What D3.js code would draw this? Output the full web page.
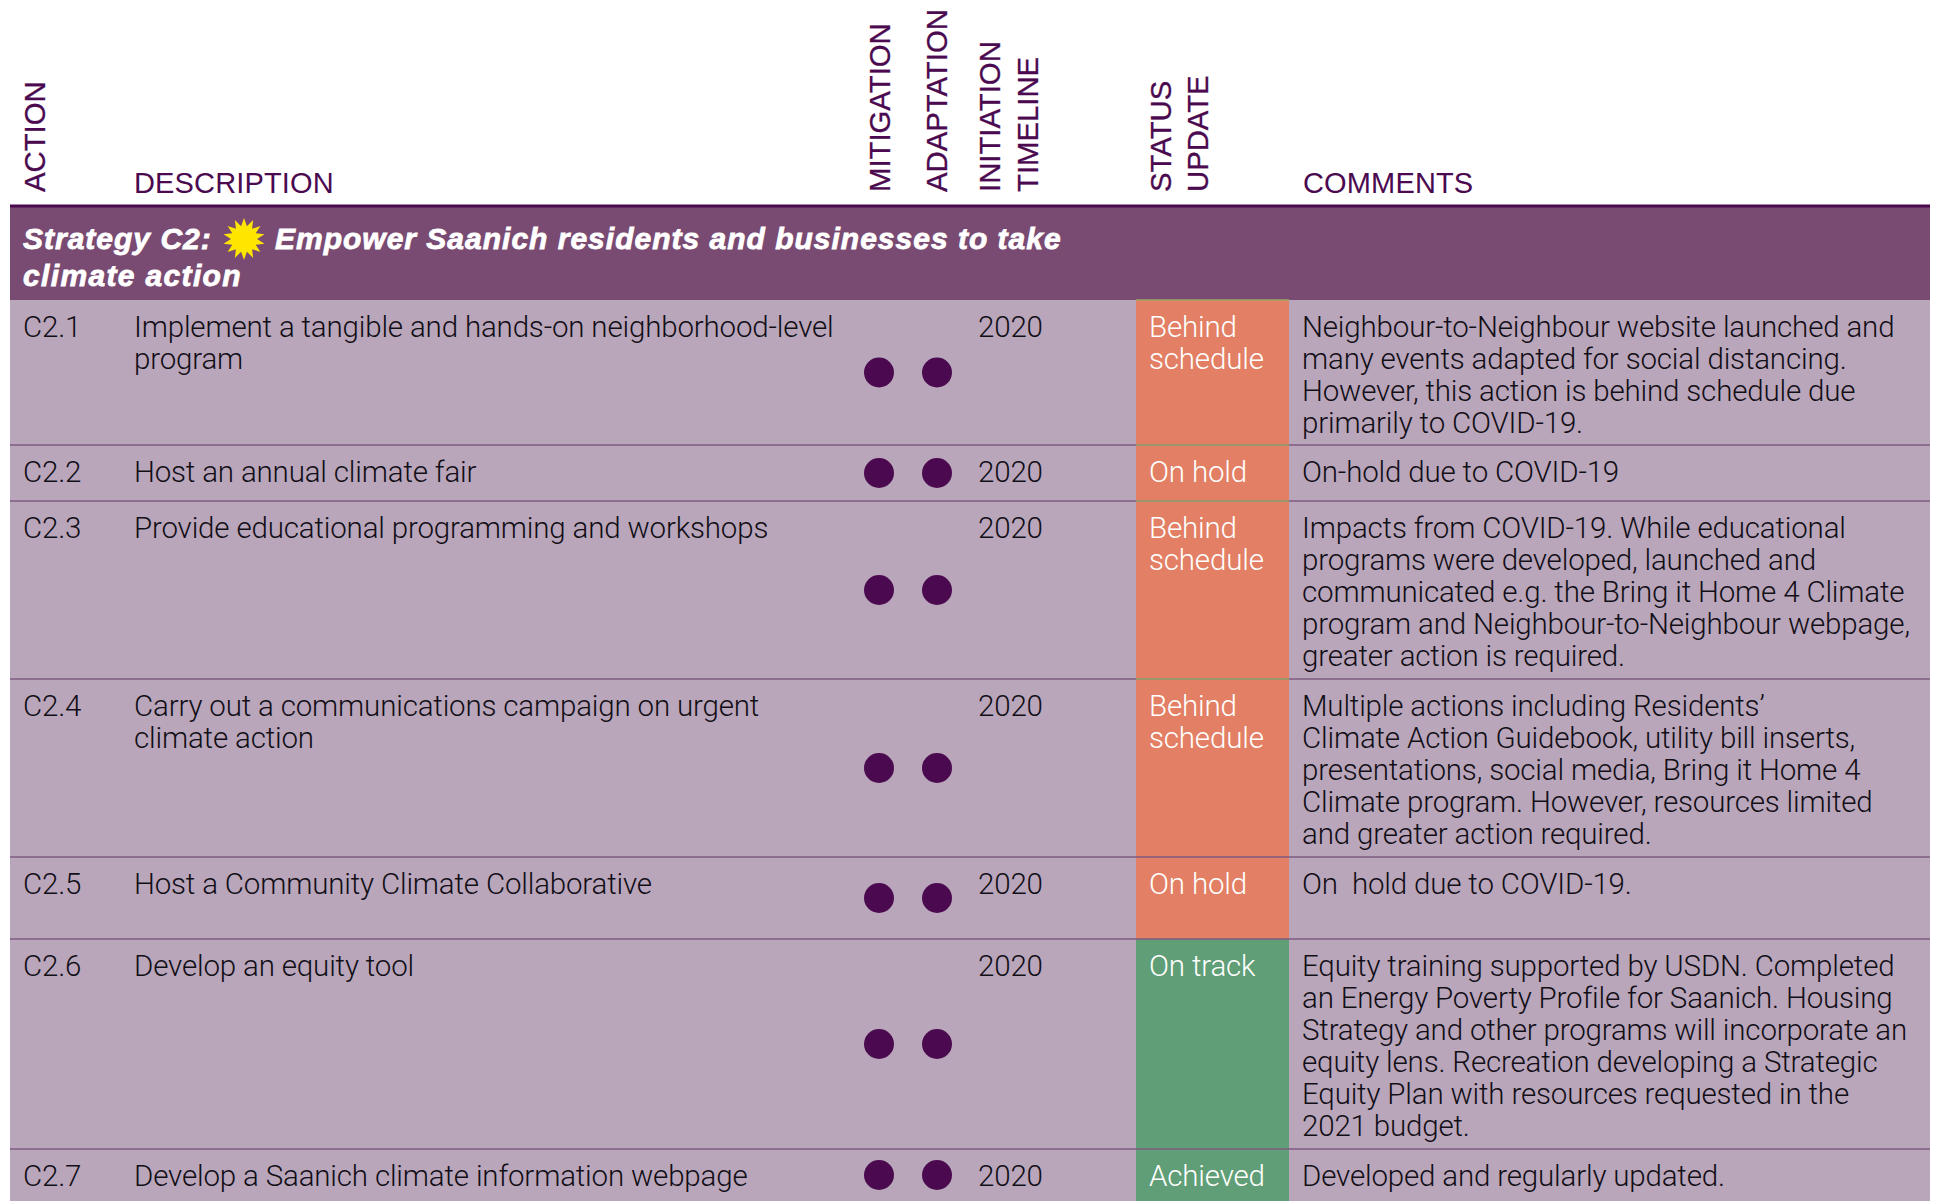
<!DOCTYPE html>
<html>
<head>
<meta charset="utf-8">
<script src="https://cdn.jsdelivr.net/npm/d3@7"></script>
<style>
  html, body { margin: 0; padding: 0; background: #fff; }
  svg { display: block; }
  text { font-family: "Liberation Sans", sans-serif; }
  text.body { font-family: Roboto, "Liberation Sans", sans-serif; font-weight: 300; }
</style>
</head>
<body>
<div id="chart"></div>
<script>
const actions = ["C2.1", "C2.2", "C2.3", "C2.4", "C2.5", "C2.6", "C2.7"];
const descriptions = [
  ["Implement a tangible and hands-on neighborhood-level", "program"],
  ["Host an annual climate fair"],
  ["Provide educational programming and workshops"],
  ["Carry out a communications campaign on urgent", "climate action"],
  ["Host a Community Climate Collaborative"],
  ["Develop an equity tool"],
  ["Develop a Saanich climate information webpage"]
];
const mitigation = [1, 1, 1, 1, 1, 1, 1];
const adaptation = [1, 1, 1, 1, 1, 1, 1];
const years = [2020, 2020, 2020, 2020, 2020, 2020, 2020];
const statuses = [
  ["Behind", "schedule"], ["On hold"], ["Behind", "schedule"], ["Behind", "schedule"],
  ["On hold"], ["On track"], ["Achieved"]
];
const comments = [
  ["Neighbour-to-Neighbour website launched and", "many events adapted for social distancing.", "However, this action is behind schedule due", "primarily to COVID-19."],
  ["On-hold due to COVID-19"],
  ["Impacts from COVID-19. While educational", "programs were developed, launched and", "communicated e.g. the Bring it Home 4 Climate", "program and Neighbour-to-Neighbour webpage,", "greater action is required."],
  ["Multiple actions including Residents\u2019", "Climate Action Guidebook, utility bill inserts,", "presentations, social media, Bring it Home 4", "Climate program. However, resources limited", "and greater action required."],
  ["On  hold due to COVID-19."],
  ["Equity training supported by USDN. Completed", "an Energy Poverty Profile for Saanich. Housing", "Strategy and other programs will incorporate an", "equity lens. Recreation developing a Strategic", "Equity Plan with resources requested in the", "2021 budget."],
  ["Developed and regularly updated."]
];
const rowTops = [300, 445, 501, 679, 857, 939, 1149, 1201];
const rotatedHeaders = [
  { label: "ACTION", col: "action" },
  { label: "MITIGATION", col: "mitigation" },
  { label: "ADAPTATION", col: "adaptation" },
  { label: "INITIATION", col: "initiation" },
  { label: "TIMELINE", col: "timeline" },
  { label: "STATUS", col: "status" },
  { label: "UPDATE", col: "update" }
];
const plainHeaders = ["DESCRIPTION", "COMMENTS"];

const width = 1933, height = 1201;
const purple = "#4b0a4f", ink = "#120e16";
const statusColor = d3.scaleOrdinal()
  .domain(["Behind schedule", "On hold", "On track", "Achieved"])
  .range(["#e27f64", "#e27f64", "#5f9e76", "#5f9e76"]);

// baselines of the vertical headers
const headerX = d3.scaleOrdinal()
  .domain(["action", "mitigation", "adaptation", "initiation", "timeline", "status", "update"])
  .range([45, 890, 947, 1000, 1038, 1171, 1208]);

const rowTop = i => rowTops[i];
const rowMid = i => (rowTops[i] + rowTops[i + 1]) / 2;

const svg = d3.select("#chart").append("svg")
  .attr("width", width).attr("height", height);

svg.append("rect").attr("x", 10).attr("y", 206).attr("width", 1920).attr("height", 94).attr("fill", "#7a4b72");
svg.append("rect").attr("x", 10).attr("y", 300).attr("width", 1920).attr("height", 901).attr("fill", "#b9a6bb");
svg.append("rect").attr("x", 10).attr("y", 204.5).attr("width", 1920).attr("height", 3).attr("fill", purple);

// status cells
svg.selectAll("rect.status").data(actions).join("rect")
  .attr("class", "status")
  .attr("x", 1136).attr("width", 153)
  .attr("y", (d, i) => rowTop(i))
  .attr("height", (d, i) => rowTop(i + 1) - rowTop(i))
  .attr("fill", (d, i) => statusColor(statuses[i].join(" ")));

// row rules
svg.selectAll("line.rule").data(rowTops.slice(1, -1)).join("line")
  .attr("class", "rule")
  .attr("x1", 10).attr("x2", 1930)
  .attr("y1", d => d).attr("y2", d => d)
  .attr("stroke", "#7f5a82").attr("stroke-width", 1.5);

// thin green edges on the salmon cells
svg.selectAll("line.edge").data(rowTops.slice(0, 4)).join("line")
  .attr("class", "edge")
  .attr("x1", 1136).attr("x2", 1289)
  .attr("y1", d => d).attr("y2", d => d)
  .attr("stroke", "#9aa862").attr("stroke-width", 1.5);

// headers
svg.selectAll("text.rot").data(rotatedHeaders).join("text")
  .attr("class", "rot")
  .attr("transform", d => `translate(${headerX(d.col)},192) rotate(-90)`)
  .attr("fill", purple).attr("stroke", purple).attr("stroke-width", 0.3)
  .attr("font-size", 29.3)
  .text(d => d.label);
svg.selectAll("text.head").data(plainHeaders).join("text")
  .attr("class", "head")
  .attr("x", (d, i) => [134, 1303][i]).attr("y", 193)
  .attr("fill", purple).attr("font-size", 29).attr("letter-spacing", 0.15)
  .text(d => d);

// strategy band
const band = svg.append("g").attr("fill", "#fff").attr("stroke", "#fff").attr("stroke-width", 0.8)
  .attr("font-size", 30).attr("letter-spacing", 1)
  .attr("font-weight", 700).attr("font-style", "italic");
band.append("text").attr("x", 23).attr("y", 249).text("Strategy C2:");
band.append("text").attr("x", 275).attr("y", 249).text("Empower Saanich residents and businesses to take");
band.append("text").attr("x", 23).attr("y", 286).attr("letter-spacing", 1.35).text("climate action");

const star = d3.lineRadial().curve(d3.curveLinearClosed)
  .angle(d => d * Math.PI / 14)
  .radius(d => d % 2 ? 13 : 21);
svg.append("path").attr("transform", "translate(244,239)")
  .attr("d", star(d3.range(28))).attr("fill", "#ffe600");

// wrapped text block
function block(sel, lines, x, fill) {
  sel.selectAll("text").data(lines).join("text")
    .attr("class", "body")
    .attr("x", x).attr("y", (d, i) => 36.7 + i * 32)
    .attr("fill", fill).attr("font-size", 29.5).attr("letter-spacing", -0.17)
    .attr("xml:space", "preserve")
    .text(d => d);
}

const rows = svg.selectAll("g.row").data(actions).join("g")
  .attr("class", "row")
  .attr("transform", (d, i) => `translate(0,${rowTop(i)})`);

rows.each(function (d, i) {
  const g = d3.select(this);
  block(g.append("g"), [d], 23, ink);
  block(g.append("g"), descriptions[i], 134, ink);
  block(g.append("g"), [String(years[i])], 978, ink);
  block(g.append("g"), statuses[i], 1149, "#fff");
  block(g.append("g"), comments[i], 1302, ink);
  const mid = rowMid(i) - rowTop(i);
  if (mitigation[i]) g.append("circle").attr("cx", 879).attr("cy", mid).attr("r", 15).attr("fill", purple);
  if (adaptation[i]) g.append("circle").attr("cx", 937).attr("cy", mid).attr("r", 15).attr("fill", purple);
});
</script>
</body>
</html>
